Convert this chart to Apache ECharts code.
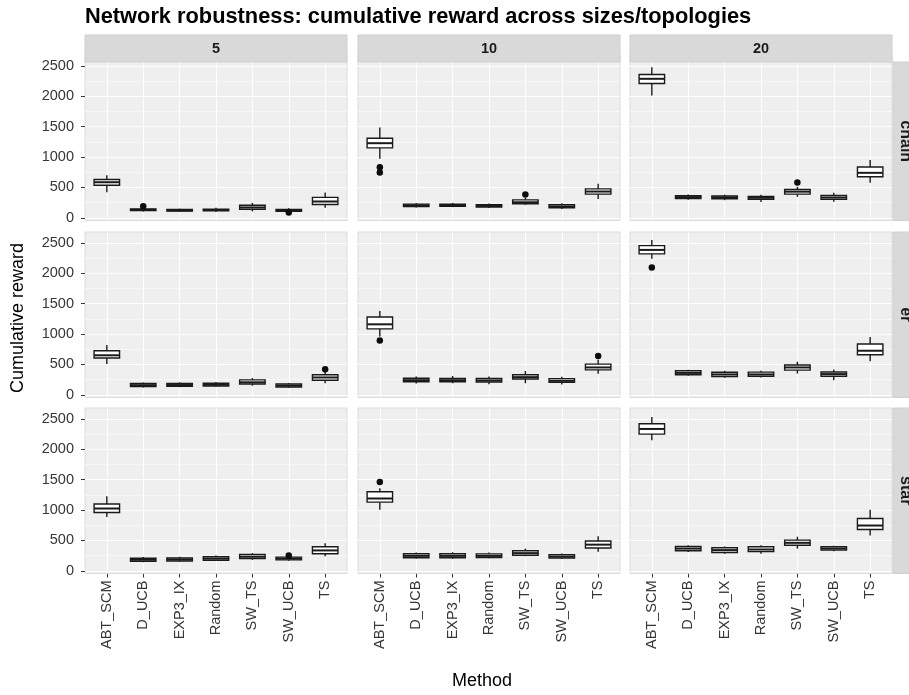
<!DOCTYPE html>
<html>
<head>
<meta charset="utf-8">
<script src="https://cdn.jsdelivr.net/npm/echarts@6/dist/echarts.min.js"></script>
<style>
  html, body { margin: 0; padding: 0; background: #ffffff; }
  #chart { width: 909px; height: 695px; }
</style>
</head>
<body>
<div id="chart"></div>
<script>
// Facet labels and categories
const methods = ['ABT_SCM', 'D_UCB', 'EXP3_IX', 'Random', 'SW_TS', 'SW_UCB', 'TS'];
const sizes = ['5', '10', '20'];
const topologies = ['chain', 'er', 'star'];
const yTicks = [0, 500, 1000, 1500, 2000, 2500];
const yMinorTicks = [250, 750, 1250, 1750, 2250];

// Five-number summaries per method: [min, Q1, median, Q3, max]
const chain5 = [[420, 535, 585, 630, 700], [105, 118, 130, 145, 170], [100, 110, 122, 135, 150], [100, 115, 128, 142, 165], [105, 140, 170, 205, 245], [95, 105, 118, 135, 155], [165, 218, 268, 335, 415]];
const chain10 = [[970, 1150, 1228, 1310, 1485], [170, 185, 205, 225, 245], [175, 188, 205, 222, 245], [160, 178, 195, 215, 235], [215, 232, 255, 295, 330], [145, 165, 185, 215, 240], [310, 390, 432, 475, 560]];
const chain20 = [[2015, 2210, 2288, 2360, 2480], [295, 315, 340, 362, 385], [290, 312, 335, 358, 380], [260, 305, 330, 352, 380], [345, 390, 430, 465, 510], [265, 305, 335, 368, 410], [575, 675, 740, 835, 950]];
const er5 = [[505, 605, 650, 725, 820], [120, 135, 158, 185, 200], [125, 140, 160, 185, 205], [130, 145, 165, 190, 210], [150, 178, 205, 245, 275], [115, 128, 150, 178, 195], [190, 240, 285, 330, 375]];
const er10 = [[960, 1085, 1160, 1280, 1380], [185, 215, 240, 272, 300], [190, 215, 240, 270, 310], [175, 210, 235, 268, 300], [190, 260, 290, 330, 390], [170, 205, 230, 265, 295], [345, 410, 450, 505, 575]];
const er20 = [[2240, 2320, 2385, 2455, 2550], [315, 330, 360, 395, 410], [280, 300, 335, 370, 395], [285, 305, 335, 372, 395], [350, 405, 450, 490, 545], [240, 305, 340, 375, 415], [550, 660, 725, 835, 950]];
const star5 = [[885, 960, 1025, 1100, 1225], [140, 155, 180, 205, 225], [145, 160, 185, 210, 230], [160, 172, 200, 230, 250], [180, 200, 230, 268, 290], [165, 180, 200, 225, 235], [240, 280, 335, 395, 455]];
const star10 = [[1005, 1130, 1190, 1300, 1360], [200, 215, 245, 280, 300], [200, 215, 245, 280, 305], [205, 218, 245, 278, 300], [240, 255, 290, 330, 365], [195, 210, 235, 265, 285], [315, 375, 430, 490, 570]];
const star20 = [[2150, 2250, 2335, 2420, 2530], [310, 330, 365, 400, 420], [280, 300, 340, 378, 400], [280, 315, 350, 395, 420], [365, 420, 460, 505, 560], [320, 340, 365, 395, 410], [580, 680, 745, 860, 1005]];

// Outlying runs: [method index, value]
const chain5Out = [[1, 190], [5, 85]];
const chain10Out = [[0, 830], [0, 745], [4, 385]];
const chain20Out = [[4, 580]];
const er5Out = [[6, 420]];
const er10Out = [[0, 895], [6, 640]];
const er20Out = [[0, 2095]];
const star5Out = [[5, 250]];
const star10Out = [[0, 1460]];
const star20Out = [];

const panelBoxes = [[chain5, chain10, chain20], [er5, er10, er20], [star5, star10, star20]];
const panelOutliers = [[chain5Out, chain10Out, chain20Out], [er5Out, er10Out, er20Out], [star5Out, star10Out, star20Out]];

// Panel geometry
const colLeft = [85, 358, 630];
const panelW = 262;
const rowTop = [55, 232, 408];
const panelH = 165.5;
const yRange = [-45, 2680];
const stripTop = 35, stripH = 27;
const rightStripX = 893, rightStripW = 27;
const inkColor = '#363636';
const panelBg = '#efefef';
const stripBg = '#d9d9d9';
const boxWidthUnits = 0.7;
const fontName = '"Liberation Sans", Arial, sans-serif';

const chart = echarts.init(document.getElementById('chart'), null, { renderer: 'canvas' });

function renderBox(params, api) {
  const x = api.value(0);
  const lo = api.coord([x, api.value(1)]);
  const q1 = api.coord([x, api.value(2)]);
  const md = api.coord([x, api.value(3)]);
  const q3 = api.coord([x, api.value(4)]);
  const hi = api.coord([x, api.value(5)]);
  const w = api.size([boxWidthUnits, 0])[0];
  const stroke = { stroke: '#1a1a1a', lineWidth: 1.4 };
  return {
    type: 'group',
    children: [
      { type: 'line', shape: { x1: lo[0], y1: lo[1], x2: q1[0], y2: q1[1] }, style: stroke },
      { type: 'line', shape: { x1: q3[0], y1: q3[1], x2: hi[0], y2: hi[1] }, style: stroke },
      { type: 'rect', shape: { x: q3[0] - w / 2, y: q3[1], width: w, height: q1[1] - q3[1] },
        style: { fill: '#ffffff', stroke: '#1a1a1a', lineWidth: 1.4 } },
      { type: 'line', shape: { x1: md[0] - w / 2, y1: md[1], x2: md[0] + w / 2, y2: md[1] },
        style: { stroke: '#1a1a1a', lineWidth: 2 } }
    ]
  };
}

const grid = [], xAxis = [], yAxis = [], series = [], graphics = [];

topologies.forEach((topo, r) => {
  sizes.forEach((size, c) => {
    const gi = r * 3 + c;
    grid.push({
      left: colLeft[c], top: rowTop[r], width: panelW, height: panelH,
      show: true, backgroundColor: panelBg, borderColor: '#dcdcdc', borderWidth: 1
    });
    const bottomRow = r === topologies.length - 1;
    const leftCol = c === 0;
    xAxis.push({
      type: 'value', gridIndex: gi, min: -0.6, max: 6.6,
      axisLine: { show: false, onZero: false },
      splitLine: { show: false },
      axisTick: { show: bottomRow, customValues: methods.map((m, i) => i), length: 4,
                  lineStyle: { color: inkColor, width: 1 } },
      axisLabel: { show: bottomRow, customValues: methods.map((m, i) => i), rotate: 90,
                   formatter: v => methods[Math.round(v)], color: inkColor, fontSize: 14.5,
                   fontFamily: fontName, margin: 7 }
    });
    yAxis.push({
      type: 'value', gridIndex: gi, min: yRange[0], max: yRange[1],
      axisLine: { show: false, onZero: false },
      splitLine: { show: false },
      axisTick: { show: leftCol, customValues: yTicks, length: 4,
                  lineStyle: { color: inkColor, width: 1 } },
      axisLabel: { show: leftCol, customValues: yTicks, color: inkColor, fontSize: 14.5,
                   fontFamily: fontName, margin: 11, formatter: v => String(v) }
    });

    // panel grid lines
    const lines = [];
    yMinorTicks.forEach(v => lines.push({ yAxis: v, lineStyle: { width: 0.6, color: '#fbfbfb', type: 'solid' } }));
    yTicks.forEach(v => lines.push({ yAxis: v, lineStyle: { width: 1.1, color: '#ffffff', type: 'solid' } }));
    methods.forEach((m, i) => lines.push({ xAxis: i, lineStyle: { width: 1.1, color: '#ffffff', type: 'solid' } }));
    series.push({
      type: 'line', xAxisIndex: gi, yAxisIndex: gi, data: [], silent: true, z: 1,
      markLine: { silent: true, z: 1, symbol: ['none', 'none'], label: { show: false },
                  lineStyle: { type: 'solid' }, animation: false, data: lines }
    });

    series.push({
      type: 'custom', name: topo + '-' + size, xAxisIndex: gi, yAxisIndex: gi, z: 5,
      renderItem: renderBox, silent: true,
      encode: { x: 0, y: [1, 2, 3, 4, 5] },
      data: panelBoxes[r][c].map((b, i) => [i].concat(b))
    });
    series.push({
      type: 'scatter', xAxisIndex: gi, yAxisIndex: gi, z: 6, silent: true,
      symbol: 'circle', symbolSize: 6.5,
      itemStyle: { color: '#0d0d0d', opacity: 1 },
      data: panelOutliers[r][c]
    });
  });
});

// strip labels across the top (size) and down the right (topology)
sizes.forEach((size, c) => {
  graphics.push({
    type: 'rect', z: 100, shape: { x: colLeft[c], y: stripTop, width: panelW, height: stripH },
    style: { fill: stripBg, stroke: '#cfcfcf', lineWidth: 1 }
  });
  graphics.push({
    type: 'text', z: 101, x: colLeft[c] + panelW / 2, y: stripTop + stripH / 2,
    style: { text: size, fill: '#1a1a1a', font: 'bold 14.5px ' + fontName,
             align: 'center', verticalAlign: 'middle' }
  });
});
topologies.forEach((topo, r) => {
  const y0 = r === 0 ? stripTop + stripH : rowTop[r];
  const h = rowTop[r] + panelH - y0;
  graphics.push({
    type: 'rect', z: 100, shape: { x: rightStripX, y: y0, width: rightStripW, height: h },
    style: { fill: stripBg, stroke: '#cfcfcf', lineWidth: 1 }
  });
  graphics.push({
    type: 'text', z: 101, x: rightStripX + 12, y: y0 + h / 2, rotation: -Math.PI / 2,
    style: { text: topo, fill: '#1a1a1a', font: 'bold 16px ' + fontName,
             align: 'center', verticalAlign: 'middle' }
  });
});
// axis titles
graphics.push({
  type: 'text', z: 101, x: 18, y: 318, rotation: Math.PI / 2,
  style: { text: 'Cumulative reward', fill: '#000000', font: '18px ' + fontName,
           align: 'center', verticalAlign: 'middle' }
});
graphics.push({
  type: 'text', z: 101, x: 482, y: 681,
  style: { text: 'Method', fill: '#000000', font: '18px ' + fontName,
           align: 'center', verticalAlign: 'middle' }
});

chart.setOption({
  animation: false,
  backgroundColor: '#ffffff',
  title: {
    text: 'Network robustness: cumulative reward across sizes/topologies',
    left: 80, top: 1,
    textStyle: { fontFamily: fontName, fontWeight: 'bold', fontSize: 21.8, color: '#000000' }
  },
  grid, xAxis, yAxis, series,
  graphic: { elements: graphics }
});
</script>
</body>
</html>
